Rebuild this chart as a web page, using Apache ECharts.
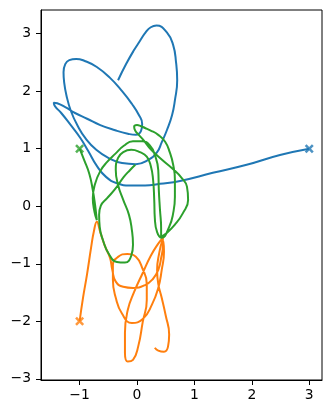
<!DOCTYPE html>
<html>
<head>
<meta charset="utf-8">
<script src="https://cdn.jsdelivr.net/npm/echarts@6/dist/echarts.min.js"></script>
<style>html,body{margin:0;padding:0;background:#fff}#c{width:332px;height:413px}</style>
</head>
<body>
<div id="c"></div>
<script>
// Trajectories (data units)
const blueX = [3.00,2.49,1.91,1.32,0.75,0.40,0.14,-0.12,-0.35,-0.54,-0.70,-0.85,-0.99,-1.17,-1.32,-1.43,-1.45,-1.39,-1.25,-1.08,-0.87,-0.64,-0.38,-0.16,-0.02,0.07,0.09,0.03,-0.09,-0.26,-0.47,-0.70,-0.90,-1.06,-1.18,-1.25,-1.28,-1.27,-1.23,-1.15,-1.03,-0.89,-0.71,-0.50,-0.26,-0.02,0.19,0.35,0.43,0.52,0.61,0.66,0.70,0.68,0.63,0.52,0.34,0.24,0.15,0.05,-0.06,-0.19,-0.33];
const blueY = [1.00,0.89,0.72,0.58,0.44,0.39,0.36,0.36,0.40,0.51,0.70,0.96,1.19,1.43,1.62,1.74,1.80,1.79,1.72,1.62,1.52,1.41,1.32,1.26,1.24,1.31,1.43,1.59,1.78,2.00,2.23,2.42,2.52,2.56,2.54,2.47,2.33,2.16,1.93,1.65,1.39,1.17,0.98,0.84,0.75,0.73,0.80,0.94,1.11,1.32,1.58,1.84,2.19,2.50,2.80,3.02,3.14,3.11,3.02,2.87,2.70,2.47,2.19];

const orangeX = [-1.00,-0.94,-0.87,-0.80,-0.75,-0.70,-0.64,-0.56,-0.47,-0.43,-0.37,-0.24,-0.07,0.14,0.28,0.37,0.42,0.45,0.45,0.37,0.24,0.10,-0.05,-0.16,-0.21,-0.21,-0.16,-0.07,0.02,0.10,0.17,0.17,0.09,-0.02,-0.17,-0.33,-0.42,-0.42,-0.37,-0.26,-0.09,0.10,0.26,0.37,0.43,0.47,0.45,0.38,0.35,0.37,0.43,0.50,0.56,0.54,0.47,0.37,0.31];
const orangeY = [-2.00,-1.59,-1.18,-0.72,-0.43,-0.27,-0.45,-0.69,-0.90,-1.11,-1.31,-1.40,-1.42,-1.37,-1.26,-1.11,-0.90,-0.69,-0.55,-0.65,-0.86,-1.16,-1.49,-1.80,-2.20,-2.55,-2.70,-2.67,-2.44,-2.01,-1.63,-1.35,-1.07,-0.88,-0.83,-0.88,-1.02,-1.28,-1.59,-1.87,-2.03,-1.96,-1.71,-1.42,-1.11,-0.79,-0.59,-0.85,-1.11,-1.35,-1.59,-1.90,-2.23,-2.44,-2.53,-2.51,-2.46];

const greenX = [-1.00,-0.92,-0.83,-0.77,-0.73,-0.71,-0.70,-0.74,-0.77,-0.73,-0.64,-0.52,-0.38,-0.23,-0.07,0.09,0.23,0.31,0.37,0.38,0.40,0.42,0.42,0.50,0.66,0.80,0.89,0.87,0.78,0.61,0.42,0.24,0.12,0.03,-0.03,-0.05,0.00,0.07,0.14,0.23,0.37,0.49,0.57,0.63,0.66,0.66,0.63,0.56,0.43,0.35,0.31,0.30,0.28,0.24,0.17,0.05,-0.10,-0.24,-0.33,-0.37,-0.33,-0.24,-0.14,-0.09,-0.07,-0.10,-0.21,-0.35,-0.49,-0.59,-0.65,-0.66,-0.63,-0.52,-0.38,-0.23,-0.12,-0.03];
const greenY = [1.00,0.80,0.56,0.28,0.02,-0.15,-0.24,-0.10,0.14,0.39,0.61,0.77,0.91,1.05,1.13,1.13,1.05,0.89,0.63,0.28,-0.06,-0.38,-0.53,-0.48,-0.32,-0.12,0.11,0.34,0.49,0.66,0.82,0.99,1.14,1.24,1.31,1.38,1.41,1.39,1.36,1.32,1.24,1.12,0.94,0.72,0.46,0.16,-0.12,-0.36,-0.55,-0.45,-0.20,0.11,0.46,0.70,0.86,0.94,0.98,0.94,0.84,0.63,0.37,0.11,-0.15,-0.41,-0.67,-0.86,-0.98,-0.97,-0.83,-0.60,-0.36,-0.15,0.01,0.14,0.30,0.51,0.63,0.72];

// Start points (blue, orange, green)
const startX = [3, -1, -1];
const startY = [1, -2, 1];

const xTicks = [-1, 0, 1, 2, 3];
const yTicks = [-3, -2, -1, 0, 1, 2, 3];

const colors = ['#1f77b4', '#ff7f0e', '#2ca02c'];

function pairs(xs, ys) { return xs.map((x, i) => [x, ys[i]]); }
const fmt = v => String(v).replace('-', '\u2212');
const crossPath = 'path://M2,0 L5,3 L8,0 L10,2 L7,5 L10,8 L8,10 L5,7 L2,10 L0,8 L3,5 L0,2 Z';

const lines = [[blueX, blueY], [orangeX, orangeY], [greenX, greenY]];
const series = [];
lines.forEach((l, i) => {
  series.push({
    type: 'line', data: pairs(l[0], l[1]), showSymbol: false, smooth: 0.5,
    lineStyle: { color: colors[i], width: 2 }, z: 2 + i, silent: true
  });
});
startX.forEach((x, i) => {
  series.push({
    type: 'scatter', data: [[x, startY[i]]], symbol: crossPath, symbolSize: 9,
    itemStyle: { color: colors[i] }, z: 10, silent: true
  });
});

const labelStyle = { color: '#000', fontSize: 13.9, fontFamily: 'DejaVu Sans', formatter: fmt };

const chart = echarts.init(document.getElementById('c'), null, { renderer: 'canvas' });
chart.setOption({
  animation: false,
  backgroundColor: '#fff',
  grid: { left: 41, right: 10, top: 10, bottom: 33, show: true, borderColor: '#000', borderWidth: 1 },
  xAxis: {
    type: 'value', min: -1.6725, max: 3.2225,
    axisLine: { onZero: false, lineStyle: { color: '#000', width: 1 } },
    axisTick: { show: true, length: 5, lineStyle: { color: '#000' }, customValues: xTicks },
    axisLabel: Object.assign({ customValues: xTicks, margin: 8 }, labelStyle),
    splitLine: { show: false }
  },
  yAxis: {
    type: 'value', min: -3.02, max: 3.41,
    axisLine: { onZero: false, lineStyle: { color: '#000', width: 1 } },
    axisTick: { show: true, length: 5, lineStyle: { color: '#000' }, customValues: yTicks },
    axisLabel: Object.assign({ customValues: yTicks, margin: 10 }, labelStyle),
    splitLine: { show: false }
  },
  series: series
});
</script>
</body>
</html>
